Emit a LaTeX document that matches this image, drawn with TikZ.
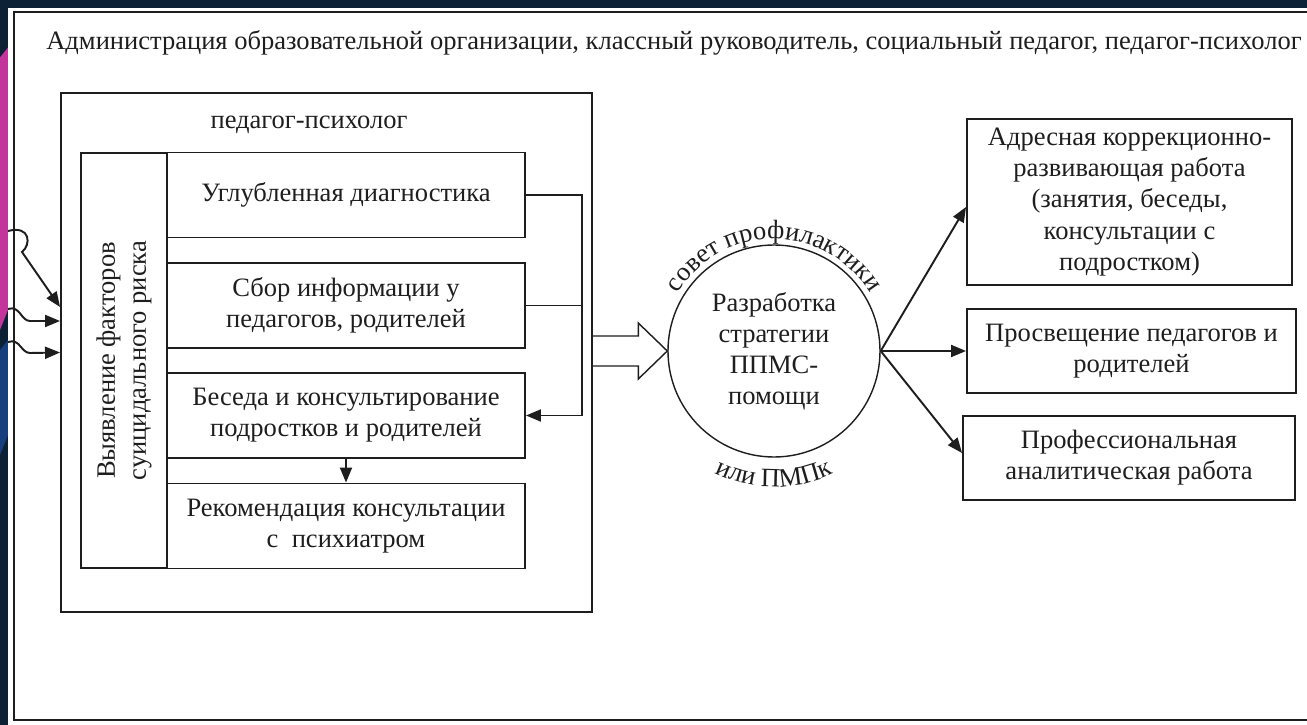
\documentclass[tikz,border=0pt]{standalone}
\usepackage{fontspec}
\setmainfont{Liberation Serif}
\definecolor{slidenavy}{RGB}{12, 32, 54}
\definecolor{slidepink}{RGB}{196, 53, 155}
\definecolor{slideblue}{RGB}{23, 63, 125}
\definecolor{inkgray}{RGB}{30, 30, 30}
\usetikzlibrary{arrows.meta, positioning, calc, decorations.text}
\newcommand{\schemefont}{\fontsize{15.1}{17.7}\selectfont}

\begin{document}
\begin{tikzpicture}[
    box/.style={draw=inkgray, line width=1.1pt, text=inkgray, align=center, font=\schemefont, inner sep=0pt},
    line/.style={draw=inkgray, line width=1.1pt},
    arrowline/.style={-{Triangle[length=0.3cm, width=0.24cm]}},
    caption/.style={font=\schemefont, text=inkgray}
  ]
  \useasboundingbox (0,0) rectangle (26.14,-14.5);

  % slide background
  \fill[slidenavy] (0,0) rectangle (26.14,-14.5);
  \fill[slidepink] (0,-1.15) -- (0.16,-0.95) -- (0.16,-6.2) -- (0,-6.6) -- cycle;
  \fill[slideblue] (0,-7.0) -- (0.16,-6.8) -- (0.16,-8.7) -- (0,-9.1) -- cycle;
  \fill[white] (0.16,-0.16) rectangle (26.14,-14.5);

  % outer frame
  \draw[line, line width=1.3pt] (26.14,-0.24) -| (0.28,-14.4) -- (26.14,-14.4);
  \node[caption] (admin) at (13.48,-0.86) {Администрация образовательной организации, классный руководитель, социальный педагог, педагог-психолог};

  % pedagog-psycholog block
  \node[box, minimum width=10.62cm, minimum height=10.38cm] (ped) at (6.53,-7.05) {};
  \node[caption] (pedlabel) at (6.18,-2.5) {педагог-психолог};
  \node[box, rotate=90, minimum width=8.3cm, minimum height=1.72cm] (factors) at (2.48,-7.21) {Выявление факторов\\суицидального риска};

  \node[box, minimum width=7.16cm, minimum height=1.7cm] (diag) at (6.92,-3.9) {Углубленная диагностика};
  \node[box, minimum width=7.16cm, minimum height=1.7cm] (sbor) at (6.92,-6.11) {Сбор информации у\\педагогов, родителей};
  \node[box, minimum width=7.16cm, minimum height=1.7cm] (beseda) at (6.92,-8.31) {Беседа и консультирование\\подростков и родителей};
  \node[box, minimum width=7.16cm, minimum height=1.7cm] (rekom) at (6.92,-10.52) {Рекомендация консультации\\с \ психиатром};

  \draw[line, arrowline] (diag.east) -- ++(1.12,0) |- (beseda.east);
  \draw[line] (sbor.east) -- ++(1.12,0);
  \draw[line, arrowline] (beseda.south) -- (rekom.north);

  % incoming arrows
  \coordinate (src1) at (0.16,-4.62);
  \coordinate (src2) at (0.16,-6.18);
  \coordinate (src3) at (0.16,-6.84);
  \draw[line, arrowline] (src1) .. controls (0.62,-4.5) and (0.62,-4.9) .. (0.44,-5.04) -- ($(ped.west)+(0,0.91)$);
  \draw[line, arrowline] (src2) .. controls (0.4,-6.1) and (0.42,-6.42) .. (0.6,-6.42) -- ($(ped.west)+(0,0.63)$);
  \draw[line, arrowline] (src3) .. controls (0.4,-6.76) and (0.42,-7.06) .. (0.6,-7.06) -- (ped.west);

  % council
  \node[draw=inkgray, line width=0.8pt, circle, minimum size=4.24cm, inner sep=0pt, align=center, font=\schemefont, text=inkgray] (strat) at (15.48,-7.02) {Разработка\\стратегии\\ППМС-\\помощи};
  \path[decorate, decoration={text along path, text align=center, text={|\schemefont\color{inkgray}|совет профилактики}}]
    ($(strat.center)+(162:2.24)$) arc[start angle=162, end angle=18, radius=2.24];
  \path[decorate, decoration={text along path, text align=center, text={|\schemefont\color{inkgray}|или ПМПк}}]
    ($(strat.center)+(237:2.72)$) arc[start angle=237, end angle=303, radius=2.72];

  % hollow arrow into the council
  \coordinate (hs) at (ped.east |- strat.west);
  \draw[line, line width=0.8pt] ($(hs)+(0,0.3)$) -- ($(strat.west)+(-0.58,0.3)$) -- ($(strat.west)+(-0.58,0.56)$) -- (strat.west)
    -- ($(strat.west)+(-0.58,-0.56)$) -- ($(strat.west)+(-0.58,-0.3)$) -- ($(hs)+(0,-0.3)$);

  % work directions
  \node[box, minimum width=6.5cm, minimum height=3.32cm] (adres) at (22.59,-4.04) {Адресная коррекционно-\\развивающая работа\\(занятия, беседы,\\консультации с\\подростком)};
  \node[box, minimum width=6.58cm, minimum height=1.68cm] (prosv) at (22.63,-7.02) {Просвещение педагогов и\\родителей};
  \node[box, minimum width=6.64cm, minimum height=1.68cm] (prof) at (22.58,-9.16) {Профессиональная\\аналитическая работа};

  \draw[line, arrowline] (strat.east) -- ($(adres.west)+(0,-0.1)$);
  \draw[line, arrowline] (strat.east) -- (prosv.west);
  \draw[line, arrowline] (strat.east) -- ($(prof.west)+(0,0.1)$);
\end{tikzpicture}
\end{document}
